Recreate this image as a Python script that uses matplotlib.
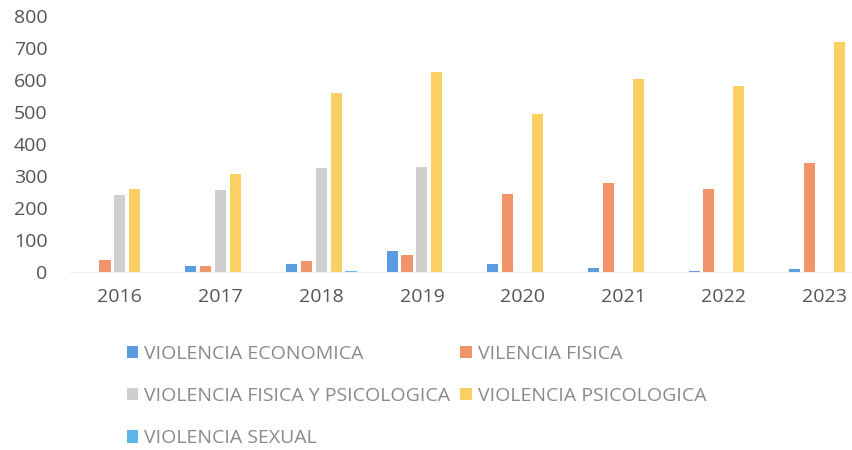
import numpy as np
import matplotlib.pyplot as plt

plt.rcParams['font.family'] = ['Open Sans', 'DejaVu Sans']

# Data
years = ['2016', '2017', '2018', '2019', '2020', '2021', '2022', '2023']
series_names = ['VIOLENCIA ECONOMICA', 'VILENCIA FISICA',
                'VIOLENCIA FISICA Y PSICOLOGICA', 'VIOLENCIA PSICOLOGICA',
                'VIOLENCIA SEXUAL']
economica = [0, 18, 25, 65, 25, 12, 3, 8]
fisica = [38, 18, 35, 52, 245, 278, 260, 340]
fisica_psico = [240, 255, 325, 328, 0, 0, 0, 0]
psicologica = [260, 307, 560, 625, 495, 605, 580, 720]
sexual = [0, 0, 3, 0, 0, 0, 0, 0]
colors = ['#5B9BE0', '#F0956A', '#CFCFCF', '#FAD063', '#5DB4E8']

values = [economica, fisica, fisica_psico, psicologica, sexual]

fig = plt.figure(figsize=(8.53, 4.5), dpi=100)
ax = fig.add_axes([0.0816, 0.396, 0.944, 0.568])

x = np.arange(len(years))
pitch = 0.148
width = 0.11
bars = []
for i, (name, vals, c) in enumerate(zip(series_names, values, colors)):
    bars.append(ax.bar(x + (i - 2) * pitch, vals, width=width, color=c, label=name))

ax.set_ylim(0, 800)
ax.set_yticks(range(0, 801, 100))
ax.set_xlim(-0.5, len(years) - 0.5)
ax.set_xticks(x)
ax.set_xticklabels(years)
ax.tick_params(axis='both', length=0, labelsize=14, colors='#555555')
ax.tick_params(axis='x', pad=12)
ax.tick_params(axis='y', pad=16)
for s in ['top', 'right', 'left']:
    ax.spines[s].set_visible(False)
ax.spines['bottom'].set_color('#EEEEEE')

# row-major order for a 2-column legend
order = [0, 2, 4, 1, 3]
leg = fig.legend([bars[i] for i in order], [series_names[i] for i in order],
                 loc='upper left', bbox_to_anchor=(0.128, 0.273), ncol=2,
                 frameon=False, fontsize=14, handlelength=0.6,
                 handleheight=0.6, handletextpad=0.3, columnspacing=0.5,
                 labelspacing=1.25)
for t in leg.get_texts():
    t.set_color('#8A8A8A')

fig.savefig('out.png', dpi=100)
